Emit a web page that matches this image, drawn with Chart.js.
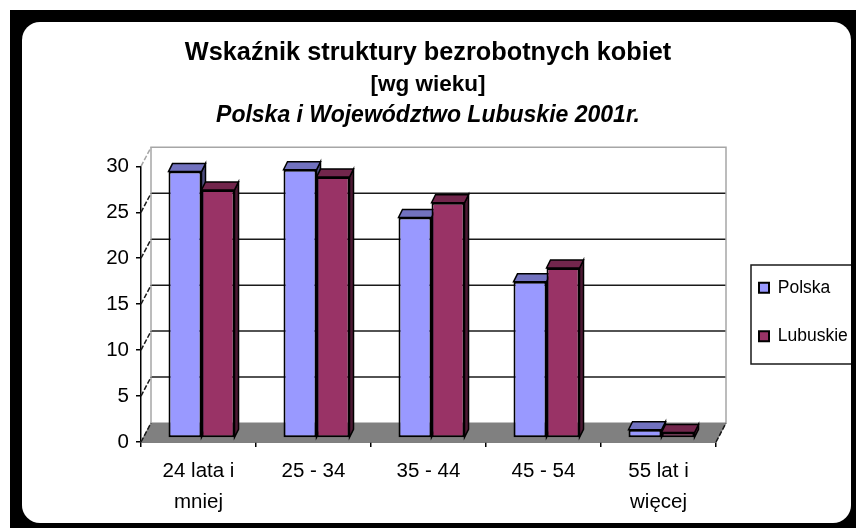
<!DOCTYPE html>
<html>
<head>
<meta charset="utf-8">
<title>Wskaźnik struktury bezrobotnych kobiet</title>
<script src="https://cdn.jsdelivr.net/npm/chart.js@4"></script>
<style>
  html, body { margin: 0; padding: 0; background: #fff; overflow: hidden; }
  #frame { position: absolute; left: 10px; top: 10px; width: 846px; height: 518px; background: #000; }
  #card { position: absolute; left: 12px; top: 12px; width: 829px; height: 501px; background: #fff; border-radius: 18px; }
  #chart { position: absolute; left: 0; top: 0; }
</style>
</head>
<body>
<div id="frame"><div id="card"></div></div>
<canvas id="chart" width="856" height="528"></canvas>
<script>
const categories = [["24 lata i", "mniej"], "25 - 34", "35 - 44", "45 - 54", ["55 lat i", "więcej"]];
const polska = [29.0, 29.2, 24.0, 17.0, 0.9];
const lubuskie = [27.0, 28.4, 25.6, 18.5, 0.6];
const titleLines = ["Wskaźnik struktury bezrobotnych kobiet", "[wg wieku]", "Polska i Województwo Lubuskie 2001r."];

// glebokosc sciany i slupkow (pseudo 3D jak w Excelu)
const wallDx = 10, wallDy = -19;
const barShift = { x: 3, y: -4 };
const barDepth = { x: 4, y: -8 };
const font = "'Liberation Sans', Arial, sans-serif";

function poly(ctx, pts, fill, stroke, lw) {
  ctx.beginPath();
  pts.forEach((p, i) => i ? ctx.lineTo(p[0], p[1]) : ctx.moveTo(p[0], p[1]));
  ctx.closePath();
  ctx.fillStyle = fill;
  ctx.fill();
  ctx.strokeStyle = stroke;
  ctx.lineWidth = lw;
  ctx.stroke();
}

const excel3d = {
  id: 'excel3d',
  afterLayout(chart) {
    // legenda stoi poza obszarem wykresu
    const l = chart.legend;
    l.left = 728; l.right = 851; l.top = 248; l.bottom = 430;
    // tytuly centrowane na calym obrazku, nie na obszarze wykresu
    chart.boxes.filter(b => b.position === 'top').forEach(b => { b.left = 0; b.right = 856; });
  },
  beforeDatasetsDraw(chart) {
    const { ctx, scales: { x, y } } = chart;
    const left = x.left, right = x.right;
    const zero = y.getPixelForValue(0), top = y.getPixelForValue(30);

    ctx.save();
    // podloga
    poly(ctx, [[left, zero], [right, zero], [right + wallDx, zero + wallDy], [left + wallDx, zero + wallDy]], '#808080', '#808080', 1);

    // siatka na tylnej scianie
    ctx.strokeStyle = '#1a1a1a';
    ctx.lineWidth = 1.5;
    y.ticks.forEach(t => {
      if (t.value === 0 || t.value === 30) return;
      const py = y.getPixelForValue(t.value) + wallDy;
      ctx.beginPath();
      ctx.moveTo(left + wallDx, py);
      ctx.lineTo(right + wallDx, py);
      ctx.stroke();
    });

    // szara rama sciany
    ctx.strokeStyle = '#a6a6a6';
    ctx.beginPath();
    ctx.moveTo(left + wallDx, zero + wallDy);
    ctx.lineTo(left + wallDx, top + wallDy);
    ctx.lineTo(right + wallDx, top + wallDy);
    ctx.lineTo(right + wallDx, zero + wallDy);
    ctx.stroke();

    // ukosne kreski od osi do sciany
    ctx.setLineDash([5, 2]);
    y.ticks.forEach(t => {
      const py = y.getPixelForValue(t.value);
      ctx.strokeStyle = t.value === 30 ? '#a6a6a6' : '#1a1a1a';
      ctx.beginPath();
      ctx.moveTo(left, py);
      ctx.lineTo(left + wallDx, py + wallDy);
      ctx.stroke();
    });
    ctx.strokeStyle = '#1a1a1a';
    ctx.beginPath();
    ctx.moveTo(right, zero);
    ctx.lineTo(right + wallDx, zero + wallDy);
    ctx.stroke();
    ctx.setLineDash([]);

    // boki i wierzch slupkow, Lubuskie przykrywa bok Polski
    ctx.translate(barShift.x, barShift.y);
    chart.data.datasets.forEach((ds, i) => {
      chart.getDatasetMeta(i).data.forEach(bar => {
        const l = bar.x - bar.width / 2, r = bar.x + bar.width / 2;
        poly(ctx, [[r, bar.y], [r + barDepth.x, bar.y + barDepth.y], [r + barDepth.x, bar.base + barDepth.y], [r, bar.base]], ds.sideColor, '#000', 1.5);
        poly(ctx, [[l, bar.y], [l + barDepth.x, bar.y + barDepth.y], [r + barDepth.x, bar.y + barDepth.y], [r, bar.y]], ds.topColor, '#000', 1.5);
      });
    });
    ctx.restore();

    // przednie sciany slupkow tez przesuniete w glab
    ctx.save();
    ctx.translate(barShift.x, barShift.y);
  },
  afterDatasetsDraw(chart) {
    chart.ctx.restore();
  },
  afterDraw(chart) {
    const { ctx } = chart;
    ctx.save();
    // trzeci wiersz tytulu
    ctx.font = "italic bold 23px " + font;
    ctx.fillStyle = '#000';
    ctx.textAlign = 'center';
    ctx.textBaseline = 'middle';
    ctx.fillText(titleLines[2], 428, 116);
    // ramka legendy, prawa krawedz chowa sie pod czarnym obramowaniem
    ctx.strokeStyle = '#1a1a1a';
    ctx.lineWidth = 1.5;
    ctx.beginPath();
    ctx.moveTo(851, 265);
    ctx.lineTo(751, 265);
    ctx.lineTo(751, 364);
    ctx.lineTo(851, 364);
    ctx.stroke();
    ctx.restore();
  }
};

new Chart(document.getElementById('chart').getContext('2d'), {
  type: 'bar',
  data: {
    labels: categories,
    datasets: [
      { label: "Polska", data: polska, backgroundColor: '#9999ff', topColor: '#7272bf', sideColor: '#4c4c7f', borderColor: '#000', borderWidth: 2, borderSkipped: false },
      { label: "Lubuskie", data: lubuskie, backgroundColor: '#993366', topColor: '#72264c', sideColor: '#4c1933', borderColor: '#000', borderWidth: 2, borderSkipped: false }
    ]
  },
  plugins: [excel3d],
  options: {
    responsive: false,
    animation: false,
    layout: { padding: { left: 0, right: 140, top: 0, bottom: 0 } },
    datasets: { bar: { categoryPercentage: 0.574, barPercentage: 1 } },
    plugins: {
      tooltip: { enabled: false },
      title: {
        display: true,
        text: titleLines[0],
        color: '#000',
        font: { family: font, size: 25.3, weight: 'bold', lineHeight: 1.2 },
        padding: { top: 38, bottom: 0 }
      },
      subtitle: {
        display: true,
        text: titleLines[1],
        color: '#000',
        font: { family: font, size: 22.5, weight: 'bold', lineHeight: 1.2 },
        padding: { top: 2.5, bottom: 68.5 }
      },
      legend: {
        position: 'chartArea',
        align: 'start',
        labels: {
          boxWidth: 10,
          boxHeight: 10,
          padding: 31,
          color: '#000',
          font: { family: font, size: 17.5 }
        }
      }
    },
    scales: {
      x: {
        offset: true,
        afterFit(scale) { scale.height = 86; },
        grid: { offset: true, drawOnChartArea: false, tickLength: 5, tickColor: '#000', lineWidth: 1.5 },
        border: { color: '#000', width: 1.5 },
        ticks: {
          autoSkip: false,
          maxRotation: 0,
          color: '#000',
          padding: 9,
          font: { family: font, size: 20.5, lineHeight: 1.5 }
        }
      },
      y: {
        min: 0,
        max: 30,
        afterFit(scale) { scale.width = 141; },
        grid: { drawOnChartArea: false, tickLength: 5, tickColor: '#000', lineWidth: 1.5 },
        border: { color: '#000', width: 1.5 },
        ticks: {
          stepSize: 5,
          color: '#000',
          padding: 7,
          font: { family: font, size: 20.5 }
        }
      }
    }
  }
});
</script>
</body>
</html>
